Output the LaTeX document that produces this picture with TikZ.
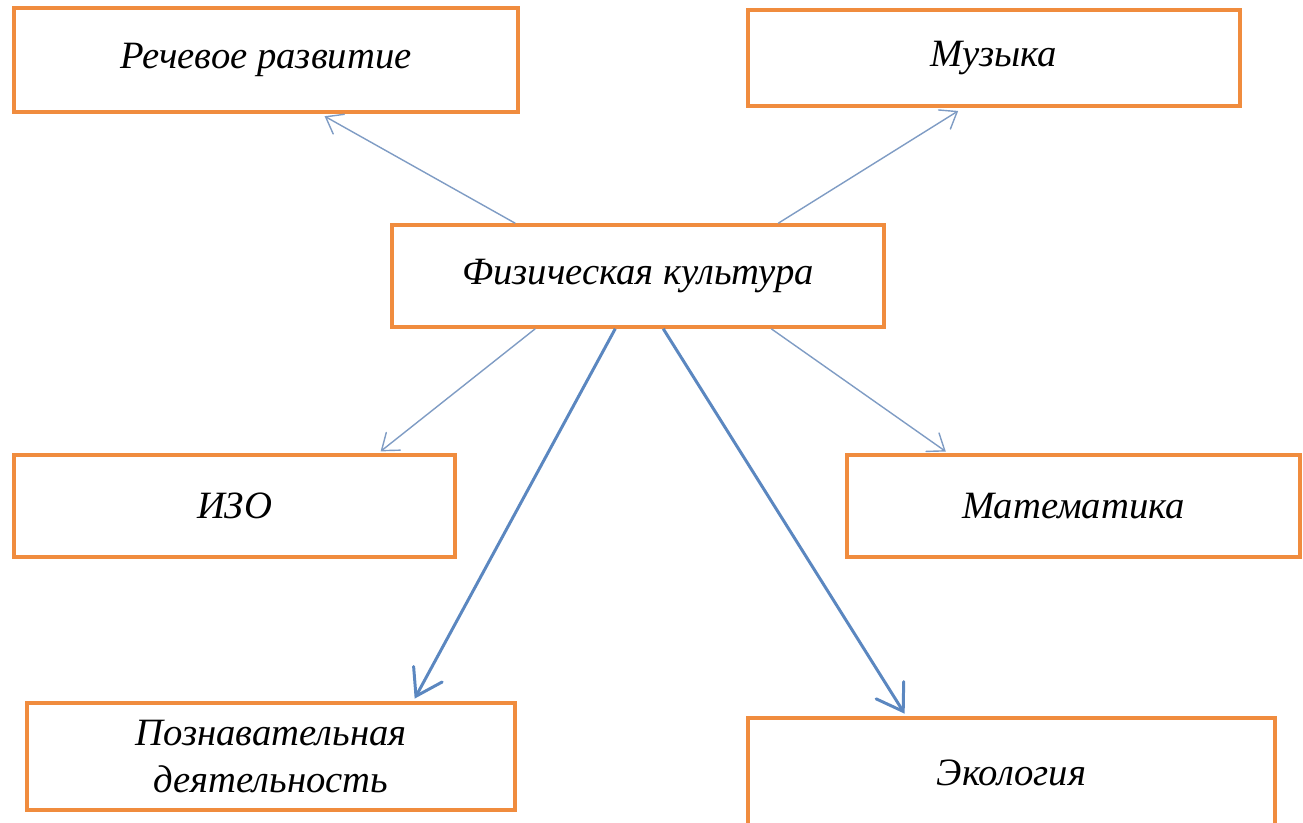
\documentclass[tikz,border=0pt]{standalone}
\usepackage{fontspec}
\setmainfont{Liberation Serif}
\usepackage{tikz}
\usetikzlibrary{arrows.meta}
\definecolor{boxorange}{HTML}{F08C3E}
\definecolor{arrowblue}{HTML}{5B87C0}
\definecolor{thinblue}{HTML}{7F9CC4}

\begin{document}
\begin{tikzpicture}
  \useasboundingbox (0,0) rectangle (26.06,-16.44);
  \tikzstyle{Box}=[draw=boxorange,line width=2pt,fill=white,inner sep=0pt,
    font=\itshape\fontsize{22}{27}\selectfont,align=center]
  \tikzstyle{ThinArrow}=[thinblue,line width=0.8pt,-{Straight Barb[length=0.3cm,width=0.45cm,line cap=round]}]
  \tikzstyle{ThickArrow}=[arrowblue,line width=1.7pt,-{Straight Barb[length=0.5cm,width=0.65cm,line cap=round]}]
  \node[Box,minimum width=10.08cm,minimum height=2.08cm] (rech) at (5.32,-1.20) {Речевое развитие};
  \node[Box,minimum width=9.84cm,minimum height=1.92cm] (muz) at (19.88,-1.16) {Музыка};
  \node[Box,minimum width=9.84cm,minimum height=2.04cm] (fiz) at (12.76,-5.52) {Физическая культура};
  \node[Box,minimum width=8.82cm,minimum height=2.04cm] (izo) at (4.69,-10.12) {ИЗО};
  \node[Box,minimum width=9.06cm,minimum height=2.04cm] (mat) at (21.47,-10.12) {Математика};
  \node[Box,minimum width=9.76cm,minimum height=2.14cm] (pozn) at (5.42,-15.13) {Познавательная\\деятельность};
  \node[Box,minimum width=10.54cm,minimum height=2.20cm] (eko) at (20.23,-15.46) {Экология};
  \draw[ThinArrow,shorten >=0.1cm] ([xshift=2.5cm]fiz.north west) -- ([xshift=6.16cm]rech.south west);
  \draw[ThinArrow,shorten >=0.12cm] ([xshift=7.76cm]fiz.north west) -- ([xshift=4.34cm]muz.south west);
  \draw[ThinArrow,shorten >=0.06cm] ([xshift=2.9cm]fiz.south west) -- ([xshift=7.32cm]izo.north west);
  \draw[ThinArrow,shorten >=0.06cm] ([xshift=7.62cm]fiz.south west) -- ([xshift=2.06cm]mat.north west);
  \draw[ThickArrow,shorten >=0.06cm] ([xshift=4.5cm]fiz.south west) -- ([xshift=7.76cm]pozn.north west);
  \draw[ThickArrow,shorten >=0.06cm] ([xshift=5.46cm]fiz.south west) -- ([xshift=3.2cm]eko.north west);
\end{tikzpicture}
\end{document}
